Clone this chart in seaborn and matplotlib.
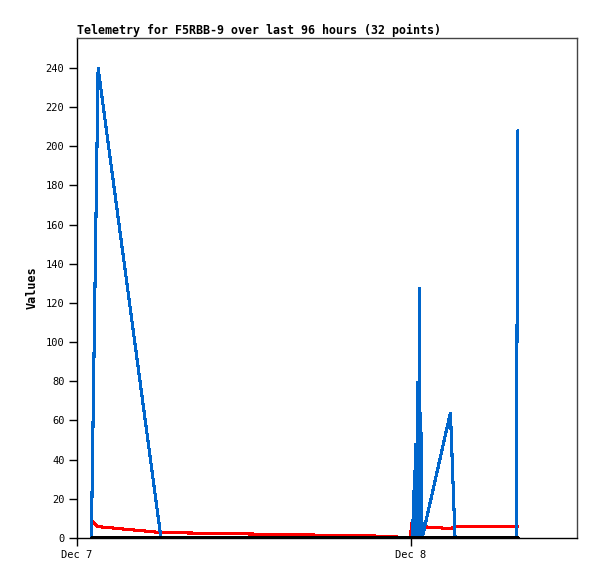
import pandas as pd
import matplotlib
matplotlib.use("Agg")
import matplotlib.pyplot as plt
import matplotlib.dates as mdates
import seaborn as sns

# telemetry samples
times = ["2023-12-07 01:02", "2023-12-07 01:31", "2023-12-07 06:02", "2023-12-07 22:16",
         "2023-12-07 23:56", "2023-12-08 00:06", "2023-12-08 00:13", "2023-12-08 00:16",
         "2023-12-08 00:18", "2023-12-08 00:21", "2023-12-08 00:24", "2023-12-08 00:26",
         "2023-12-08 00:30", "2023-12-08 00:33", "2023-12-08 00:37", "2023-12-08 00:39",
         "2023-12-08 00:42", "2023-12-08 00:48", "2023-12-08 02:50", "2023-12-08 03:10",
         "2023-12-08 07:33", "2023-12-08 07:41"]
ch_blue = [0, 240, 0, 0, 0, 0, 24, 0, 48, 0, 40, 0, 80, 0, 128, 0, 64, 0, 64, 0, 0, 208]
ch_red = [9, 5.8, 2.8, 0.9, 0, 9, 9, 8.5, 8, 7.5, 7, 6.8, 6.5, 6.3, 6.1, 6, 6, 5.8, 4.8, 5.8, 5.8, 5.8]
ch_black = [0] * len(times)

df = pd.DataFrame({"time": pd.to_datetime(times), "blue": ch_blue,
                   "red": ch_red, "black": ch_black})

sns.set_style("white")
plt.rcParams['font.family'] = ['DejaVu Sans Mono']
plt.rcParams['text.color'] = 'black'
plt.rcParams['axes.labelcolor'] = 'black'
plt.rcParams['xtick.color'] = 'black'
plt.rcParams['ytick.color'] = 'black'

fig = plt.figure(figsize=(5.97, 5.79), dpi=100)
ax = fig.add_axes([77 / 597, 1 - 538 / 579, 500 / 597, 500 / 579])

sns.lineplot(data=df, x="time", y="red", color="#ff0000", linewidth=1.5, ax=ax)
sns.lineplot(data=df, x="time", y="blue", color="#0066cc", linewidth=1.5, ax=ax)
sns.lineplot(data=df, x="time", y="black", color="black", linewidth=2.2, ax=ax)
for ln in ax.get_lines():
    ln.set_antialiased(False)
    ln.set_solid_joinstyle("miter")

start = pd.Timestamp("2023-12-07 00:00")
ax.set_xlim(start, start + pd.Timedelta(hours=500 / 334 * 24))
ax.set_ylim(0, 255.3)
ax.set_yticks(range(0, 241, 20))
ax.xaxis.set_major_locator(mdates.DayLocator())
ax.xaxis.set_major_formatter(mdates.DateFormatter("%b %-d"))

ax.tick_params(axis="both", direction="out", length=6, width=1, color="black",
               labelcolor="black", labelsize=7.5, pad=3, left=True, bottom=True)
for side in ["left", "bottom"]:
    ax.spines[side].set_color("black")
    ax.spines[side].set_linewidth(1)
for side in ["top", "right"]:
    ax.spines[side].set_color("#444444")
    ax.spines[side].set_linewidth(1)

ax.set_xlabel("")
ax.set_ylabel("Values", fontsize=8.5, fontweight="bold", labelpad=5, color="black")
ax.set_title("Telemetry for F5RBB-9 over last 96 hours (32 points)", loc="left",
             fontsize=8.4, fontweight="bold", pad=3, color="black")

fig.savefig("out.png", dpi=100)
